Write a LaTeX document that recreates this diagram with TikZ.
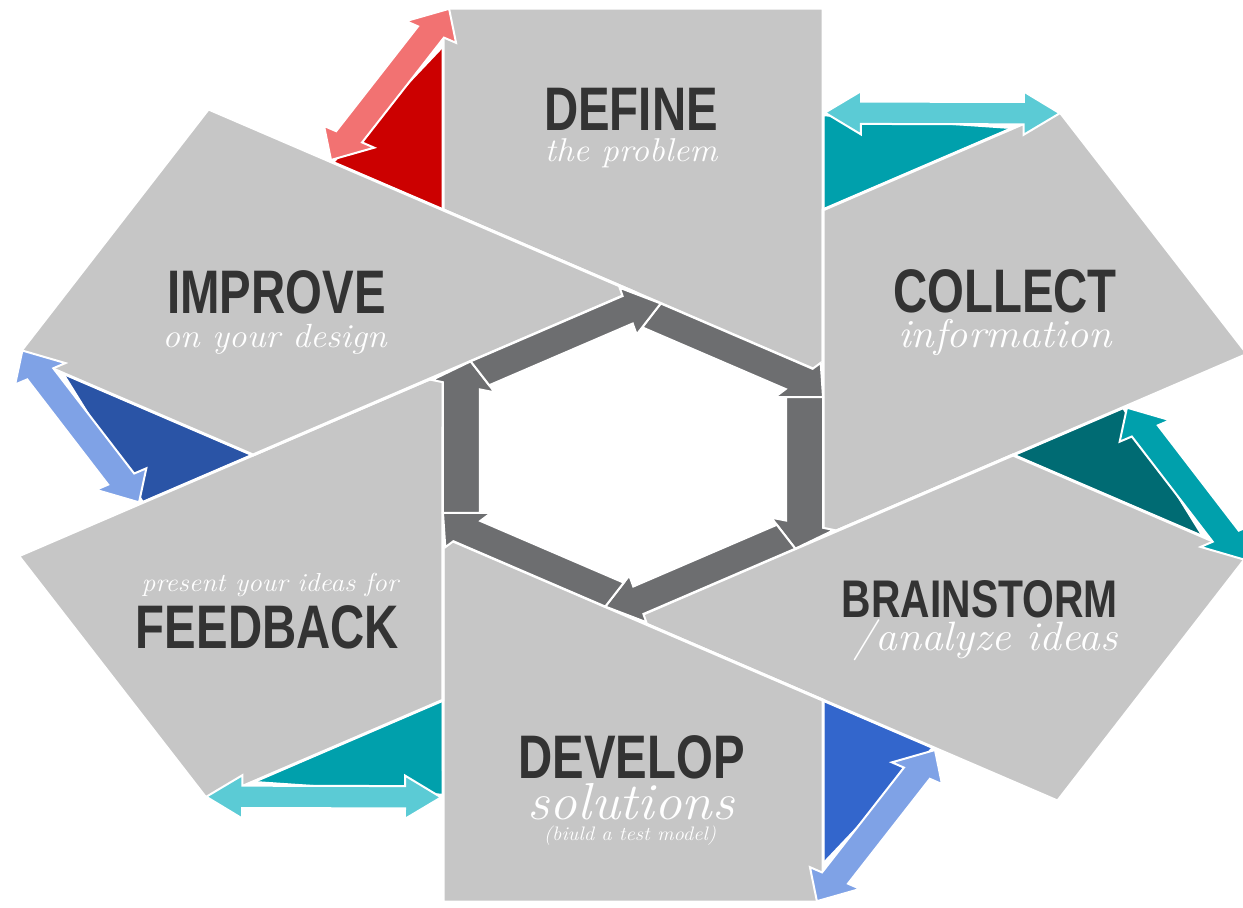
\documentclass[tikz,border=0pt]{standalone}
\usepackage{fontspec}
\usepackage{tikz}
\usetikzlibrary{shapes,arrows}
\newfontfamily\headfont[FakeStretch=0.77]{Liberation Sans}
\newcommand{\stretchit}[1]{\scalebox{1.06}[1]{#1}}

\definecolor{panelgray}{HTML}{C6C6C6}
\definecolor{ringgray}{HTML}{6D6E70}
\definecolor{ink}{HTML}{333333}
\definecolor{redtri}{HTML}{CC0000}
\definecolor{redarr}{HTML}{F27272}
\definecolor{tealtri}{HTML}{00A0AC}
\definecolor{cyanarr}{HTML}{5BCBD5}
\definecolor{darktealtri}{HTML}{006B73}
\definecolor{bluetri}{HTML}{3366CC}
\definecolor{bluearr}{HTML}{7FA2E6}
\definecolor{darkbluetri}{HTML}{2A54A6}

\tikzstyle{panel} = [fill=panelgray, draw=white, line width=3pt]
\tikzstyle{fold} = [draw=white, line width=2pt]
\tikzstyle{turn} = [fill=ringgray, draw=white, line width=2pt]
\tikzset{title/.style={text=ink, anchor=base, inner sep=0pt, font=\headfont\bfseries\fontsize{#1}{#1}\selectfont}, title/.default=61.5}
\tikzset{sub/.style={text=white, anchor=base, inner sep=0pt, font=\itshape\fontsize{#1}{#1}\selectfont}}

\begin{document}
\begin{tikzpicture}[x=1pt, y=1pt]

\clip (0,0) rectangle (1243,-908);
\fill[white] (0,0) rectangle (1243,-908);

\begin{scope}[shift={(633,-455)}, yscale=0.745]
% coloured folds
\foreach \k/\tri in {0/redtri, 1/tealtri, 2/darktealtri, 3/bluetri, 4/tealtri, 5/darkbluetri}
  \fill[fold, fill=\tri, rotate=-60*\k] (-190,329.1) -- (-190,548.5) -- (-300,392.6) -- cycle;

% grey panels
\foreach \k in {0,...,5}
  \path[panel, rotate=-60*\k] (190,109.7) -- (190,600) -- (-190,600) -- (-190,329.1) -- cycle;

% double arrows
\foreach \k/\arr in {0/redarr, 1/cyanarr, 2/tealtri, 3/bluearr, 4/cyanarr, 5/bluearr}
  \path[fold, fill=\arr, rotate=-60*\k, shift={(-302,396)}, rotate=59.8]
    (0,0) -- (36,29) -- (36,15) -- (198.8,15) -- (198.8,29) -- (234.8,0)
    -- (198.8,-29) -- (198.8,-15) -- (36,-15) -- (36,-29) -- cycle;

% ring of arrows
\foreach \k in {0,...,5}
  \path[turn, rotate=-60*\k, shift={(0,219.4)}, rotate=-30]
    (32,0) -- (207.4,0) -- (210.4,11) -- (235.4,-27.7) -- (193.8,-51.7)
    -- (197.7,-37) -- (32,-37) -- cycle;
\end{scope}

\node[title] (define) at (631,-130) {DEFINE};
\node[sub=33] (defineit) at (631,-161) {\stretchit{the problem}};

\node[title] (collect) at (1005,-312) {COLLECT};
\node[sub=40] (collectit) at (1005,-347) {\stretchit{information}};

\node[title=53, anchor=base east] (brainstorm) at (1118,-617) {BRAINSTORM};
\node[sub=41, anchor=base east] (brainstormit) at (1118,-650) {\stretchit{/analyze ideas}};

\node[title] (develop) at (631.5,-778) {DEVELOP};
\node[sub=52] (developit) at (631,-819) {\stretchit{solutions}};
\node[sub=19.5] (developnote) at (630,-840) {\stretchit{(biuld a test model)}};

\node[sub=26] (feedbackit) at (270,-591) {\stretchit{present your ideas for}};
\node[title] (feedback) at (267.5,-648) {FEEDBACK};

\node[title] (improve) at (276.5,-313) {IMPROVE};
\node[sub=33.5] (improveit) at (274.5,-347) {\stretchit{on your design}};

\end{tikzpicture}
\end{document}
